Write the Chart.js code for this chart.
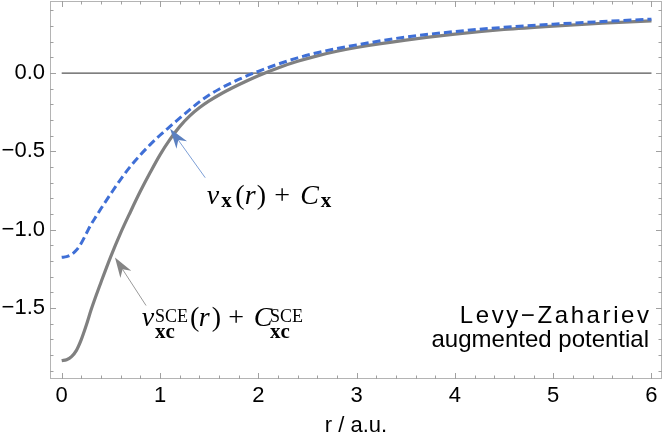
<!DOCTYPE html>
<html><head><meta charset="utf-8">
<script src="https://cdn.jsdelivr.net/npm/chart.js@4"></script>
<style>html,body{margin:0;padding:0;background:#fff;}</style>
</head><body>
<canvas id="c" width="664" height="437"></canvas>
<script>
// ---- data ----
const rValues   = [0, 0.05, 0.1, 0.15, 0.2, 0.25, 0.3, 0.35, 0.4, 0.5, 0.6, 0.7, 0.8, 0.9, 1.0, 1.1, 1.2, 1.3, 1.4, 1.5, 1.6, 1.8, 2.0, 2.2, 2.4, 2.6, 2.8, 3.0, 3.5, 4.0, 4.5, 5.0, 5.5, 6.0];
const vxcSCE    = [-1.836, -1.83, -1.81, -1.77, -1.70, -1.61, -1.51, -1.42, -1.335, -1.17, -1.02, -0.885, -0.755, -0.635, -0.522, -0.425, -0.342, -0.275, -0.222, -0.178, -0.14, -0.075, -0.017, 0.033, 0.075, 0.11, 0.139, 0.163, 0.21, 0.248, 0.278, 0.300, 0.318, 0.333];
const vxExact   = [-1.176, -1.172, -1.158, -1.13, -1.085, -1.025, -0.965, -0.915, -0.865, -0.77, -0.678, -0.595, -0.523, -0.457, -0.397, -0.342, -0.288, -0.235, -0.184, -0.14, -0.103, -0.041, 0.011, 0.057, 0.097, 0.13, 0.157, 0.18, 0.23, 0.265, 0.292, 0.312, 0.329, 0.344];
const zeroLineR = [0, 6];
const zeroLineV = [0, 0];
const xTickValues = [0, 1, 2, 3, 4, 5, 6];
const xTickLabels = ['0', '1', '2', '3', '4', '5', '6'];
const yTickValues = [0, -0.5, -1, -1.5];
const yTickLabels = ['0.0', '\u22120.5', '\u22121.0', '\u22121.5'];
const xAxisTitle = 'r / a.u.';
const noteLines = ['Levy\u2212Zahariev', 'augmented potential'];

const pts = (xs, ys) => xs.map((x, i) => ({x: x, y: ys[i]}));

const SANS = "'Liberation Sans', Arial, sans-serif";
const SERIF = "'Liberation Serif', 'Times New Roman', serif";

const decor = {
  id: 'decor',
  beforeDatasetsDraw(chart) {
    const ctx = chart.ctx, a = chart.chartArea;
    const xs = chart.scales.x, ys = chart.scales.y;
    ctx.save();
    ctx.strokeStyle = '#b4b4b4';
    ctx.lineWidth = 1;
    ctx.strokeRect(a.left + 0.5, a.top + 0.5, a.right - a.left - 1, a.bottom - a.top - 1);
    ctx.strokeStyle = '#a0a0a0';
    ctx.beginPath();
    for (let k = 0; k <= 30; k++) {
      const v = k * 0.2;
      const major = Math.abs(v - Math.round(v)) < 1e-6;
      const L = major ? 6 : 3.5;
      const px = Math.round(xs.getPixelForValue(v)) + 0.5;
      ctx.moveTo(px, a.bottom); ctx.lineTo(px, a.bottom - L);
      ctx.moveTo(px, a.top); ctx.lineTo(px, a.top + L);
    }
    for (let k = -19; k <= 4; k++) {
      const v = k * 0.1;
      const major = k % 5 === 0;
      const L = major ? 6 : 3.5;
      const py = Math.round(ys.getPixelForValue(v)) + 0.5;
      ctx.moveTo(a.left, py); ctx.lineTo(a.left + L, py);
      ctx.moveTo(a.right, py); ctx.lineTo(a.right - L, py);
    }
    ctx.stroke();
    ctx.restore();
  },
  afterDraw(chart) {
    const ctx = chart.ctx;
    const xs = chart.scales.x, ys = chart.scales.y;
    const X = v => xs.getPixelForValue(v), Y = v => ys.getPixelForValue(v);
    // arrows (positions in data units)
    drawArrow(ctx, X(1.46), Y(-0.668), X(1.103), Y(-0.355), '#7d9fd6', '#5b80c0');
    drawArrow(ctx, X(0.858), Y(-1.484), X(0.542), Y(-1.178), '#9a9a9a', '#858585');
    // math labels
    const M = 'italic 28px ' + SERIF, R = '28px ' + SERIF, B = 'bold 21px ' + SERIF, S = '18px ' + SERIF;
    drawPieces(ctx, X(1.475), Y(-0.834), [
      {t: 'v', dx: 0, dy: 0, f: M},
      {t: 'x', dx: 14.5, dy: 3, f: B},
      {t: '(', dx: 28.5, dy: 0, f: R},
      {t: 'r', dx: 38, dy: 0, f: M},
      {t: ')', dx: 50, dy: 0, f: R},
      {t: '+', dx: 67.5, dy: 0, f: R},
      {t: 'C', dx: 93.5, dy: 0, f: M},
      {t: 'x', dx: 114, dy: 3, f: B}
    ]);
    drawPieces(ctx, X(0.814), Y(-1.617), [
      {t: 'v', dx: 0, dy: 0, f: M},
      {t: 'xc', dx: 13.3, dy: 12, f: B},
      {t: 'SCE', dx: 13.3, dy: -4, f: S},
      {t: '(', dx: 48.3, dy: 0, f: R},
      {t: 'r', dx: 57, dy: 0, f: M},
      {t: ')', dx: 70, dy: 0, f: R},
      {t: '+', dx: 86.6, dy: 0, f: R},
      {t: 'C', dx: 112, dy: 0, f: M},
      {t: 'xc', dx: 128.3, dy: 12, f: B},
      {t: 'SCE', dx: 128.3, dy: -4, f: S}
    ]);
    // note
    ctx.save();
    ctx.fillStyle = '#000';
    ctx.font = '24px ' + SANS;
    ctx.textAlign = 'right';
    ctx.textBaseline = 'alphabetic';
    ctx.letterSpacing = '2.6px';
    ctx.fillText(noteLines[0], X(5.975) + 2.6, Y(-1.593));
    ctx.letterSpacing = '0px';
    ctx.fillText(noteLines[1], X(5.975), Y(-1.746));
    ctx.restore();
  }
};

function drawArrow(ctx, x1, y1, x2, y2, lineColor, headColor) {
  const ang = Math.atan2(y2 - y1, x2 - x1);
  const c = Math.cos(ang), s = Math.sin(ang);
  const L = 20, W = 6.5, N = 14;
  ctx.save();
  ctx.strokeStyle = lineColor; ctx.lineWidth = 1;
  ctx.beginPath(); ctx.moveTo(x1, y1); ctx.lineTo(x2 - N * c, y2 - N * s); ctx.stroke();
  ctx.fillStyle = headColor;
  const bx = x2 - L * c, by = y2 - L * s;
  const px = -s, py = c;
  ctx.beginPath();
  ctx.moveTo(x2, y2);
  ctx.lineTo(bx + W * px, by + W * py);
  ctx.lineTo(x2 - N * c, y2 - N * s);
  ctx.lineTo(bx - W * px, by - W * py);
  ctx.closePath(); ctx.fill();
  ctx.restore();
}

function drawPieces(ctx, x0, y0, pieces) {
  ctx.save();
  ctx.fillStyle = '#000';
  ctx.textAlign = 'left';
  ctx.textBaseline = 'alphabetic';
  pieces.forEach(p => { ctx.font = p.f; ctx.fillText(p.t, x0 + p.dx, y0 + p.dy); });
  ctx.restore();
}

new Chart(document.getElementById('c'), {
  type: 'line',
  data: {
    datasets: [
      {label: 'vx', data: pts(rValues, vxExact), borderColor: '#3f6fd6', borderWidth: 3, borderDash: [8, 4],
       pointRadius: 0, fill: false, cubicInterpolationMode: 'monotone', order: 0},
      {label: 'vSCE', data: pts(rValues, vxcSCE), borderColor: '#808080', borderWidth: 3.2,
       pointRadius: 0, fill: false, cubicInterpolationMode: 'monotone', order: 1},
      {label: 'zero', data: pts(zeroLineR, zeroLineV), borderColor: '#555555', borderWidth: 1.2,
       pointRadius: 0, fill: false, order: 2}
    ]
  },
  options: {
    responsive: false, animation: false, devicePixelRatio: 1,
    layout: {padding: {left: 0, right: 2, top: 1, bottom: 0}},
    plugins: {legend: {display: false}, tooltip: {enabled: false}},
    scales: {
      x: {
        type: 'linear', min: -0.119, max: 6.107,
        afterBuildTicks: ax => { ax.ticks = xTickValues.map(v => ({value: v})); },
        afterFit: s => { s.height = 58; s.paddingLeft = 0; s.paddingRight = 0; },
        grid: {display: false, drawTicks: false}, border: {display: false},
        ticks: {callback: v => xTickLabels[xTickValues.indexOf(v)], font: {family: SANS, size: 22}, color: '#000',
                padding: 4, maxRotation: 0, autoSkip: false},
        title: {display: true, text: xAxisTitle, font: {family: SANS, size: 22, lineHeight: 1}, color: '#000',
                padding: {top: 0, bottom: 0}}
      },
      y: {
        type: 'linear', min: -1.953, max: 0.46,
        afterBuildTicks: ax => { ax.ticks = yTickValues.map(v => ({value: v})); },
        afterFit: s => { s.width = 50; s.paddingTop = 0; s.paddingBottom = 0; },
        grid: {display: false, drawTicks: false}, border: {display: false},
        ticks: {callback: v => yTickLabels[yTickValues.indexOf(v)], font: {family: SANS, size: 22}, color: '#000',
                padding: 5, autoSkip: false}
      }
    }
  },
  plugins: [decor]
});
</script>
</body></html>
